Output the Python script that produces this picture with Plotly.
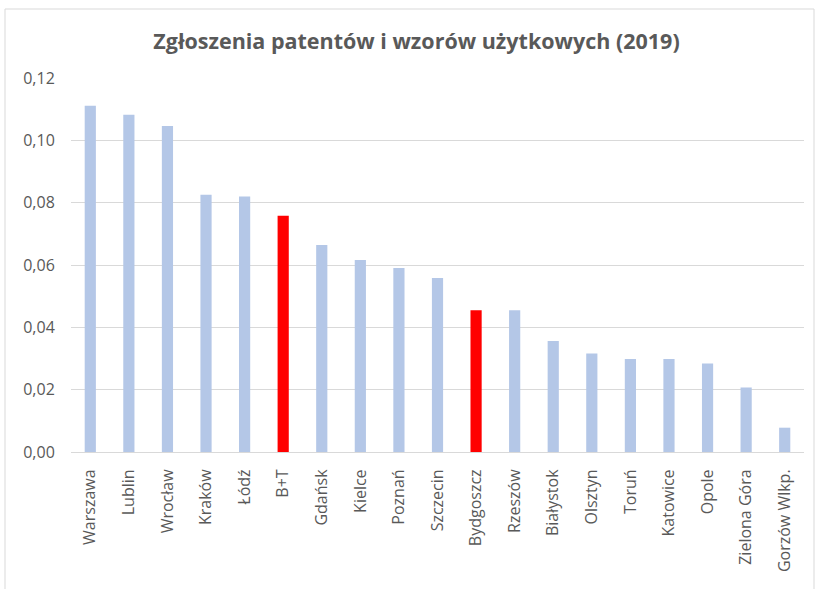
import plotly.graph_objects as go

cities = ["Warszawa", "Lublin", "Wrocław", "Kraków", "Łódź", "B+T", "Gdańsk", "Kielce",
          "Poznań", "Szczecin", "Bydgoszcz", "Rzeszów", "Białystok", "Olsztyn", "Toruń",
          "Katowice", "Opole", "Zielona Góra", "Gorzów Wlkp."]
values = [0.1111, 0.1082, 0.1046, 0.0825, 0.0820, 0.0758, 0.0664, 0.0616,
          0.0590, 0.0558, 0.0455, 0.0455, 0.0356, 0.0316, 0.0298,
          0.0298, 0.0284, 0.0207, 0.0078]
highlight = ["B+T", "Bydgoszcz"]

colors = ["#FF0000" if c in highlight else "#B4C7E7" for c in cities]

fig = go.Figure(go.Bar(x=cities, y=values, marker=dict(color=colors, line=dict(width=0)),
                       width=0.29))

fig.update_layout(
    width=819, height=589,
    paper_bgcolor="white", plot_bgcolor="white",
    margin=dict(l=71, r=15, t=78, b=137),
    separators=", ",
    showlegend=False,
    title=dict(text="<b>Zgłoszenia patentów i wzorów użytkowych (2019)</b>",
               x=416.5 / 819, xanchor="center", y=1 - 41 / 589, yanchor="middle",
               font=dict(family="Open Sans", size=21.5, color="#595959")),
    font=dict(family="Open Sans", color="#595959"),
    xaxis=dict(tickangle=-90, tickfont=dict(size=16, color="#595959"),
               showline=True, linecolor="#D9D9D9", linewidth=1,
               ticks="outside", ticklen=10, tickcolor="rgba(0,0,0,0)", showgrid=False),
    yaxis=dict(range=[0, 0.12], dtick=0.02, tickformat=".2f",
               tickfont=dict(size=16, color="#595959"),
               showgrid=True, gridcolor="#D9D9D9", gridwidth=1,
               zeroline=False, ticks="outside", ticklen=12, tickcolor="rgba(0,0,0,0)"),
    shapes=[dict(type="rect", xref="paper", yref="paper",
                 x0=-66/733, x1=(814-71)/733, y0=-(600-452)/374, y1=(452-9)/374,
                 line=dict(color="#D9D9D9", width=1), fillcolor="rgba(0,0,0,0)", layer="below")],
)

fig.write_html("out.html", config={"displayModeBar": False},
               post_script="document.body.style.margin='0';")
